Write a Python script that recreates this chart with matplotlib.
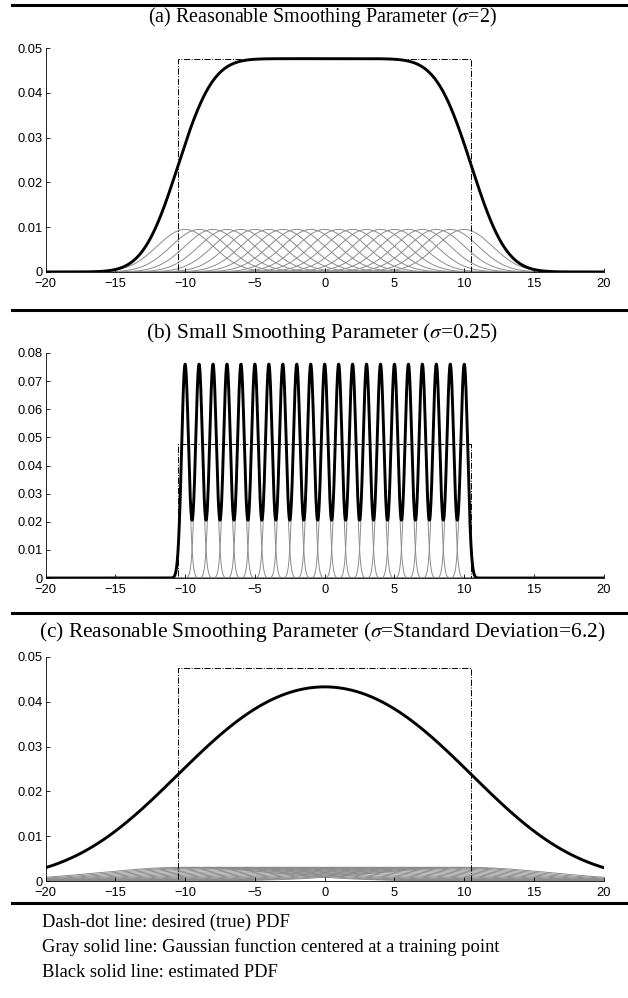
import numpy as np
import matplotlib
matplotlib.use("Agg")
import matplotlib.pyplot as plt
from matplotlib.lines import Line2D

# training points (one Gaussian per point) and the true uniform PDF
train_points = [-10, -9, -8, -7, -6, -5, -4, -3, -2, -1, 0,
                1, 2, 3, 4, 5, 6, 7, 8, 9, 10]
true_lo, true_hi = -10.5, 10.5
sigmas = [2.0, 0.25, 6.2]
titles = [
    r"(a) Reasonable Smoothing Parameter ($\sigma$=2)",
    r"(b) Small Smoothing Parameter ($\sigma$=0.25)",
    r"(c) Reasonable Smoothing Parameter ($\sigma$=Standard Deviation=6.2)",
]
yticks = [
    [0, 0.01, 0.02, 0.03, 0.04, 0.05],
    [0, 0.01, 0.02, 0.03, 0.04, 0.05, 0.06, 0.07, 0.08],
    [0, 0.01, 0.02, 0.03, 0.04, 0.05],
]
xticks = [-20, -15, -10, -5, 0, 5, 10, 15, 20]
notes = [
    "Dash-dot line: desired (true) PDF",
    "Gray solid line: Gaussian function centered at a training point",
    "Black solid line: estimated PDF",
]

plt.rcParams["mathtext.fontset"] = "stix"
plt.rcParams["font.family"] = ["Liberation Sans", "DejaVu Sans"]

fig = plt.figure(figsize=(6.28, 9.98), dpi=100)

# axes boxes in figure fractions: left, bottom, width, height
boxes = [
    [0.0725, 0.7275, 0.889, 0.2244],
    [0.0725, 0.4208, 0.889, 0.2255],
    [0.0725, 0.1172, 0.889, 0.2245],
]
title_y = [0.983, 0.6663, 0.3667]
title_size = [14.4, 15.4, 15.4]
sep_y = [0.995, 0.6894, 0.3858, 0.0952]

x = np.linspace(-20, 20, 4001)
n = len(train_points)
true_h = 1.0 / (true_hi - true_lo)

for k in range(3):
    ax = fig.add_axes(boxes[k])
    s = sigmas[k]
    total = np.zeros_like(x)
    for c in train_points:
        g = np.exp(-0.5 * ((x - c) / s) ** 2) / (np.sqrt(2 * np.pi) * s) / n
        total += g
        ax.plot(x, g, color="0.55", lw=0.7, zorder=1)
    ax.plot([-20, true_lo, true_lo, true_hi, true_hi, 20],
            [0, 0, true_h, true_h, 0, 0],
            color="k", lw=0.7, ls="-.", zorder=2)
    ax.plot(x, total, color="k", lw=2.1, zorder=3)

    ax.set_xlim(-20, 20)
    ax.set_ylim(yticks[k][0], yticks[k][-1])
    ax.set_xticks(xticks)
    ax.set_xticklabels(["\u2212%d" % -v if v < 0 else "%d" % v for v in xticks])
    ax.set_yticks(yticks[k])
    ax.set_yticklabels(["%g" % v for v in yticks[k]])
    ax.spines["top"].set_visible(False)
    ax.spines["right"].set_visible(False)
    ax.tick_params(direction="in", length=3, width=0.6, labelsize=9.3)
    ax.tick_params(axis="x", pad=4.5)
    ax.tick_params(axis="y", pad=2)
    for sp in ("left", "bottom"):
        ax.spines[sp].set_linewidth(0.6)

    fig.text(0.513, title_y[k], titles[k], ha="center", va="center",
             family="Liberation Serif", fontsize=title_size[k])

for yy in sep_y:
    fig.add_artist(Line2D([0.019, 1.0], [yy, yy], color="k", lw=2.2))

for i, t in enumerate(notes):
    fig.text(0.067, 0.0762 - i * 0.0251, t, ha="left", va="center",
             family="Liberation Serif", fontsize=13.3)

fig.savefig("out.png", dpi=100)
